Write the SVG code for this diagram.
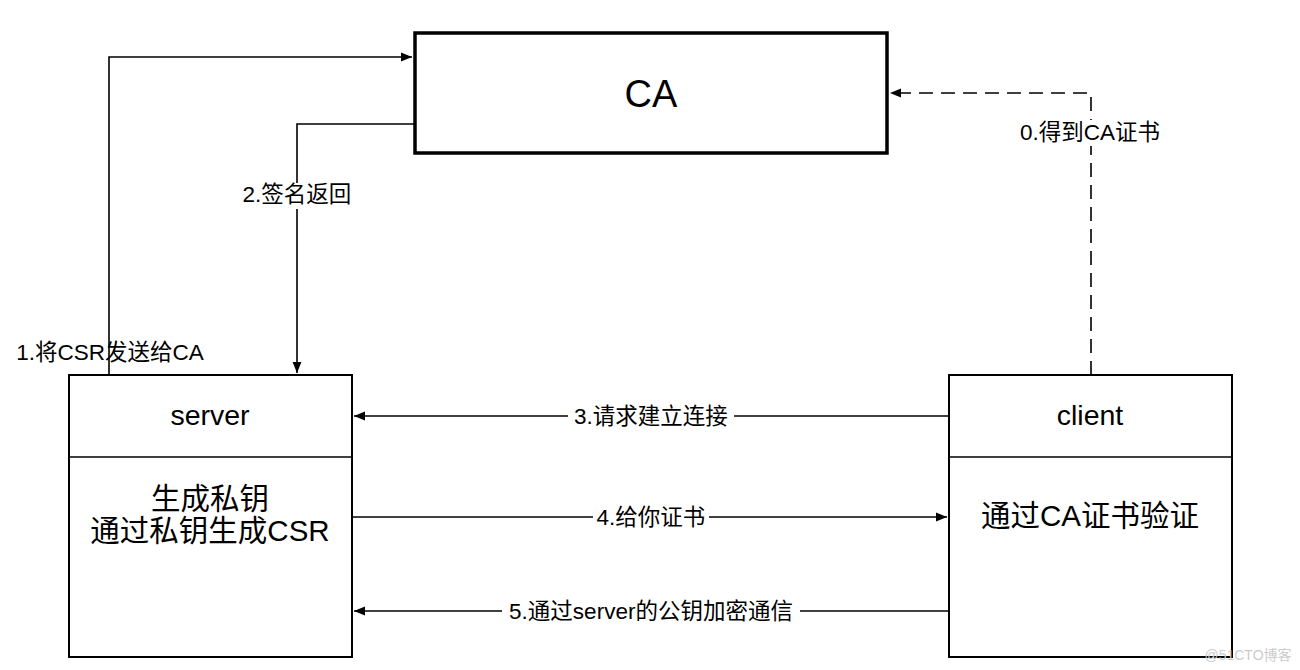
<svg xmlns="http://www.w3.org/2000/svg" width="1300" height="670" viewBox="0 0 1300 670">
<style>
text{font-family:"Liberation Sans","Noto Sans CJK SC",sans-serif;fill:#000;text-anchor:middle}
.box{fill:#fff;stroke:#000;stroke-width:2}
.ca{fill:#fff;stroke:#000;stroke-width:3.5}
.ln{fill:none;stroke:#000;stroke-width:1.6}
.dash{stroke-dasharray:14 8}
.lbl{font-size:22.5px}
.body{font-size:29.5px}
.bg{fill:#fff}
</style>
<defs>
<marker id="ah" viewBox="0 0 10 10" refX="10" refY="5" markerWidth="11" markerHeight="11" markerUnits="userSpaceOnUse" orient="auto">
<path d="M0,1 L10,5 L0,9 Z" fill="#000"/>
</marker>
</defs>
<g id="ca">
<rect class="ca" x="415" y="33" width="472" height="120"/>
<text x="651" y="107" font-size="38">CA</text>
</g>
<g id="server">
<rect class="box" x="69" y="375" width="283" height="282"/>
<line class="ln" x1="69" y1="457" x2="352" y2="457" stroke-width="2"/>
<text x="210" y="425" font-size="28.5">server</text>
<text class="body" x="210" y="509">生成私钥</text>
<text class="body" x="210" y="541">通过私钥生成CSR</text>
</g>
<g id="client">
<rect class="box" x="949" y="375" width="283" height="282"/>
<line class="ln" x1="949" y1="457" x2="1232" y2="457" stroke-width="2"/>
<text x="1090" y="425" font-size="28.5">client</text>
<text class="body" x="1090" y="526">通过CA证书验证</text>
</g>
<g id="connectors">
<polyline class="ln" points="109,375 109,57 412,57" marker-end="url(#ah)"/>
<polyline class="ln" points="414,124 297,124 297,373" marker-end="url(#ah)"/>
<polyline class="ln dash" points="1091,375 1091,93 890,93" marker-end="url(#ah)"/>
<line class="ln" x1="949" y1="416" x2="354" y2="416" marker-end="url(#ah)"/>
<line class="ln" x1="352" y1="517" x2="947" y2="517" marker-end="url(#ah)"/>
<line class="ln" x1="949" y1="611" x2="354" y2="611" marker-end="url(#ah)"/>
</g>
<g id="labels">
<text class="lbl" x="110" y="360">1.将CSR发送给CA</text>
<rect class="bg" x="241" y="183" width="112" height="26"/>
<text class="lbl" x="297" y="202">2.签名返回</text>
<rect class="bg" x="1016" y="120" width="148" height="26"/>
<text class="lbl" x="1090" y="140">0.得到CA证书</text>
<rect class="bg" x="568" y="404" width="166" height="26"/>
<text class="lbl" x="651" y="424">3.请求建立连接</text>
<rect class="bg" x="593" y="505" width="116" height="26"/>
<text class="lbl" x="651" y="525">4.给你证书</text>
<rect class="bg" x="502" y="599" width="298" height="26"/>
<text class="lbl" x="651" y="619">5.通过server的公钥加密通信</text>
</g>
<text x="1248" y="660" font-size="14" style="fill:#ccc">@51CTO博客</text>
</svg>
